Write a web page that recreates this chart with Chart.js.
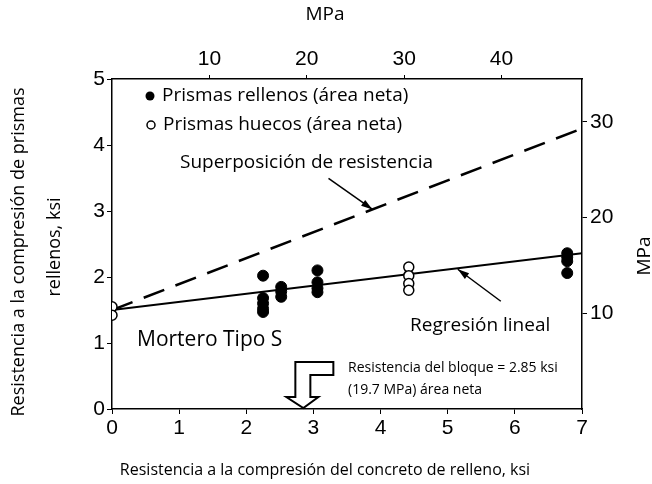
<!DOCTYPE html>
<html>
<head>
<meta charset="utf-8">
<script src="https://cdn.jsdelivr.net/npm/chart.js@4"></script>
<style>
  body { margin: 0; background: #fff; }
  #wrap { width: 652px; height: 484px; }
</style>
</head>
<body>
<div id="wrap"><canvas id="myChart" width="652" height="484"></canvas></div>
<script>
// Datos (ksi)
const rellenosX = [2.25, 2.25, 2.25, 2.25, 2.25, 2.52, 2.52, 2.52, 3.06, 3.06, 3.06, 3.06, 6.78, 6.78, 6.78, 6.78];
const rellenosY = [2.02, 1.68, 1.6, 1.52, 1.47, 1.85, 1.78, 1.7, 2.1, 1.92, 1.83, 1.77, 2.36, 2.3, 2.24, 2.06];
const huecosX = [0, 0, 4.42, 4.42, 4.42, 4.42];
const huecosY = [1.55, 1.42, 2.15, 2.02, 1.9, 1.8];
const regresionX = [0, 7];
const regresionY = [1.5, 2.36];
const superposicionX = [0, 7];
const superposicionY = [1.5, 4.25];
const ksiTicks = [0, 1, 2, 3, 4, 5, 6, 7];
const mpaTicks = [10, 20, 30, 40];
const KSI_A_MPA = 6.895;
const bloqueKsi = 2.85;

const toPts = (xs, ys) => xs.map((x, i) => ({ x: x, y: ys[i] }));

const txtFont = "'Open Sans', sans-serif";
const numFont = "'Liberation Sans', Arial, sans-serif";

// Textos y flechas encima del gráfico
const anotaciones = {
  id: "anotaciones",
  afterDraw(chart) {
    const c = chart.ctx;
    const sx = chart.scales.x;
    const sy = chart.scales.y;
    const px = (v) => sx.getPixelForValue(v);
    const py = (v) => sy.getPixelForValue(v);
    c.save();
    c.fillStyle = "#000";
    c.strokeStyle = "#000";
    c.textBaseline = "middle";

    // leyenda
    c.beginPath();
    c.arc(150, 96, 4.5, 0, Math.PI * 2);
    c.fill();
    c.beginPath();
    c.lineWidth = 1.5;
    c.arc(151, 125, 4, 0, Math.PI * 2);
    c.stroke();
    c.font = "19px " + txtFont;
    c.textAlign = "left";
    c.fillText("Prismas rellenos (área neta)", 162, 96);
    c.fillText("Prismas huecos (área neta)", 163, 125);

    c.fillText("Superposición de resistencia", 180, 163);
    c.fillText("Regresión lineal", 410, 326);
    c.font = "21px " + txtFont;
    c.fillText("Mortero Tipo S", 137, 340);
    c.font = "14px " + txtFont;
    c.fillText("Resistencia del bloque = 2.85 ksi", 348, 368);
    c.fillText("(19.7 MPa) área neta", 348, 390);

    // flechas
    function flecha(x1, y1, x2, y2) {
      c.lineWidth = 1.5;
      c.beginPath();
      c.moveTo(x1, y1);
      c.lineTo(x2, y2);
      c.stroke();
      const a = Math.atan2(y2 - y1, x2 - x1);
      c.beginPath();
      c.moveTo(x2, y2);
      c.lineTo(x2 - 12 * Math.cos(a - 0.3), y2 - 12 * Math.sin(a - 0.3));
      c.lineTo(x2 - 12 * Math.cos(a + 0.3), y2 - 12 * Math.sin(a + 0.3));
      c.closePath();
      c.fill();
    }
    const sxHead = 3.88;
    const syHead = superposicionY[0] + (superposicionY[1] - superposicionY[0]) * sxHead / 7;
    flecha(px(sxHead) - 44, py(syHead) - 31, px(sxHead), py(syHead));
    const rxHead = 5.15;
    const ryHead = regresionY[0] + (regresionY[1] - regresionY[0]) * rxHead / 7;
    flecha(px(rxHead) + 43, py(ryHead) + 33, px(rxHead), py(ryHead) + 1);

    // flecha hueca de la resistencia del bloque
    const tx = px(bloqueKsi);
    const ty = py(0) - 1;
    c.lineWidth = 2;
    c.beginPath();
    c.moveTo(tx - 8, ty - 11);
    c.lineTo(tx - 8, ty - 46);
    c.lineTo(tx + 30, ty - 46);
    c.lineTo(tx + 30, ty - 33);
    c.lineTo(tx + 7, ty - 33);
    c.lineTo(tx + 7, ty - 11);
    c.lineTo(tx + 15, ty - 11);
    c.lineTo(tx, ty);
    c.lineTo(tx - 17, ty - 11);
    c.closePath();
    c.stroke();

    // títulos de ejes
    c.font = "16px " + txtFont;
    c.textAlign = "center";
    c.fillText("Resistencia a la compresión del concreto de relleno, ksi", 325, 470);
    c.font = "19px " + txtFont;
    c.fillText("MPa", 325, 15);
    const cy = (chart.chartArea.top + chart.chartArea.bottom) / 2;
    c.font = "18px " + txtFont;
    c.save();
    c.translate(19, cy + 8);
    c.rotate(-Math.PI / 2);
    c.fillText("Resistencia a la compresión de prismas", 0, 0);
    c.restore();
    c.save();
    c.translate(55, cy + 3);
    c.rotate(-Math.PI / 2);
    c.fillText("rellenos, ksi", 0, 0);
    c.restore();
    c.font = "19px " + txtFont;
    c.save();
    c.translate(645, cy + 12);
    c.rotate(-Math.PI / 2);
    c.fillText("MPa", 0, 0);
    c.restore();
    c.restore();
  }
};

const ctx = document.getElementById("myChart");

new Chart(ctx, {
  type: "scatter",
  data: {
    datasets: [
      {
        label: "Prismas rellenos (área neta)",
        data: toPts(rellenosX, rellenosY),
        backgroundColor: "#000",
        borderColor: "#000",
        pointRadius: 5.5,
      },
      {
        label: "Prismas huecos (área neta)",
        data: toPts(huecosX, huecosY),
        backgroundColor: "#fff",
        borderColor: "#000",
        borderWidth: 1.5,
        pointRadius: 5,
      },
      {
        type: "line",
        label: "Regresión lineal",
        data: toPts(regresionX, regresionY),
        borderColor: "#000",
        borderWidth: 2,
        pointRadius: 0,
        order: 1,
      },
      {
        type: "line",
        label: "Superposición de resistencia",
        data: toPts(superposicionX, superposicionY),
        borderColor: "#000",
        borderWidth: 2.5,
        borderDash: [22, 12],
        pointRadius: 0,
        order: 1,
      },
    ],
  },
  options: {
    responsive: false,
    animation: false,
    layout: { padding: 0 },
    plugins: {
      legend: { display: false },
      tooltip: { enabled: false },
    },
    scales: {
      x: {
        type: "linear",
        position: "bottom",
        min: 0,
        max: 7,
        afterBuildTicks: (s) => { s.ticks = ksiTicks.map((v) => ({ value: v })); },
        afterFit: (s) => { s.height = 75; },
        ticks: { color: "#000", font: { family: numFont, size: 21 }, padding: 2 },
        grid: { drawOnChartArea: false, color: "#000", tickLength: 5 },
        border: { color: "#000", width: 1.5 },
      },
      x2: {
        type: "linear",
        position: "top",
        min: 0,
        max: 7 * KSI_A_MPA,
        afterBuildTicks: (s) => { s.ticks = mpaTicks.map((v) => ({ value: v })); },
        afterFit: (s) => { s.height = 79; },
        ticks: { color: "#000", font: { family: numFont, size: 21 }, padding: 3 },
        grid: { drawOnChartArea: false, color: "#000", tickLength: 4 },
        border: { color: "#000", width: 1.5 },
      },
      y: {
        type: "linear",
        position: "left",
        min: 0,
        max: 5,
        afterBuildTicks: (s) => { s.ticks = ksiTicks.slice(0, 6).map((v) => ({ value: v })); },
        afterFit: (s) => { s.width = 112; },
        ticks: { color: "#000", font: { family: numFont, size: 21 }, padding: 2 },
        grid: { drawOnChartArea: false, color: "#000", tickLength: 5 },
        border: { color: "#000", width: 1.5 },
      },
      y2: {
        type: "linear",
        position: "right",
        min: 0,
        max: 5 * KSI_A_MPA,
        afterBuildTicks: (s) => { s.ticks = mpaTicks.slice(0, 3).map((v) => ({ value: v })); },
        afterFit: (s) => { s.width = 70; },
        ticks: { color: "#000", font: { family: numFont, size: 21 }, padding: 3 },
        grid: { drawOnChartArea: false, color: "#000", tickLength: 5 },
        border: { color: "#000", width: 1.5 },
      },
    },
  },
  plugins: [anotaciones],
});
</script>
</body>
</html>
